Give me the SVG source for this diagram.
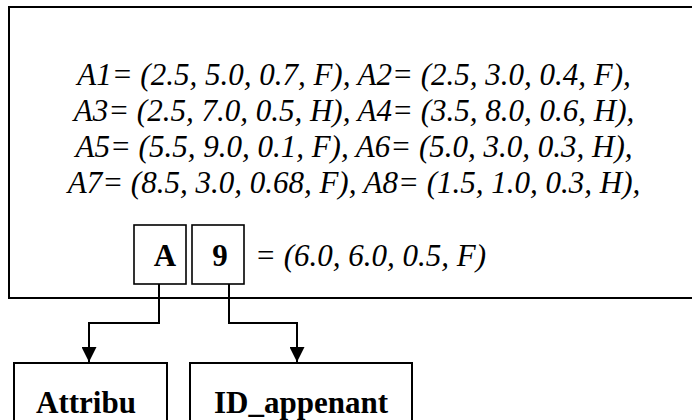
<svg xmlns="http://www.w3.org/2000/svg" width="692" height="420" viewBox="0 0 692 420">
<defs>
<style>
.box{fill:#fff;stroke:#000;stroke-width:2}
.sbox{fill:#fff;stroke:#000;stroke-width:1.6}
.it{font-family:"Liberation Serif","Times New Roman",serif;font-style:italic;font-size:31px;fill:#000}
.bd{font-family:"Liberation Serif","Times New Roman",serif;font-weight:bold;font-size:31px;fill:#000}
.con{fill:none;stroke:#000;stroke-width:2}
</style>
<marker id="arr" viewBox="0 0 10 10" refX="10" refY="5" markerWidth="7.5" markerHeight="7.5" markerUnits="strokeWidth" orient="auto">
<path d="M0,0 L10,5 L0,10 Z" fill="#000"/>
</marker>
</defs>
<rect width="692" height="420" fill="#fff"/>
<g id="main">
<rect class="box" x="9" y="7" width="700" height="291"/>
<text class="it" x="354" text-anchor="middle" y="85">A1= (2.5, 5.0, 0.7, F), A2= (2.5, 3.0, 0.4, F),</text>
<text class="it" x="354" text-anchor="middle" y="121">A3= (2.5, 7.0, 0.5, H), A4= (3.5, 8.0, 0.6, H),</text>
<text class="it" x="354" text-anchor="middle" y="157">A5= (5.5, 9.0, 0.1, F), A6= (5.0, 3.0, 0.3, H),</text>
<text class="it" x="354" text-anchor="middle" y="193">A7= (8.5, 3.0, 0.68, F), A8= (1.5, 1.0, 0.3, H),</text>
<text class="it" x="255" y="266">= (6.0, 6.0, 0.5, F)</text>
</g>
<g id="nodeA">
<rect class="sbox" x="134" y="225" width="52" height="59"/>
<text class="bd" x="165" y="266" text-anchor="middle">A</text>
</g>
<g id="node9">
<rect class="sbox" x="192" y="225" width="52" height="59"/>
<text class="bd" x="220" y="266" text-anchor="middle">9</text>
</g>
<g id="connectors">
<path class="con" d="M159,284 V323 H89 V362" marker-end="url(#arr)"/>
<path class="con" d="M229,284 V323 H297 V362" marker-end="url(#arr)"/>
</g>
<g id="nodeAttribu">
<rect class="box" x="14" y="363" width="153" height="70"/>
<text class="bd" x="86" y="413" text-anchor="middle">Attribu</text>
</g>
<g id="nodeID">
<rect class="box" x="190" y="363" width="222" height="70"/>
<text class="bd" x="301" y="413" text-anchor="middle">ID_appenant</text>
</g>
</svg>
